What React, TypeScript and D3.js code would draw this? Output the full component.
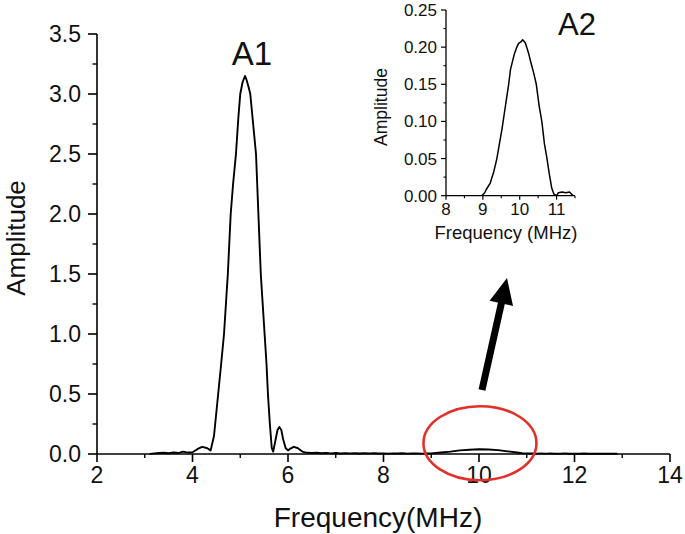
import React from "react";
import * as d3 from "d3";

const W = 685;
const H = 534;

// Main spectrum (frequency in MHz, amplitude)
const mainFreq = [
  3.1, 3.2, 3.3, 3.4, 3.5, 3.6, 3.7, 3.8, 3.9, 4.0, 4.1, 4.2, 4.3, 4.38,
  4.45, 4.5, 4.55, 4.6, 4.66, 4.7, 4.74, 4.8, 4.85, 4.91, 4.96, 5.0, 5.05,
  5.1, 5.13, 5.18, 5.21, 5.27, 5.33, 5.38, 5.43, 5.47, 5.51, 5.55, 5.58,
  5.62, 5.66, 5.69, 5.73, 5.78, 5.82, 5.86, 5.9, 5.95, 6.0, 6.05, 6.12, 6.2,
  6.3, 6.4, 6.5, 6.6, 6.7, 6.8, 6.9, 7.0, 7.1, 7.2, 7.3, 7.4, 7.5, 7.6, 7.7,
  7.8, 7.9, 8.0, 8.1, 8.2, 8.3, 8.4, 8.5, 8.6, 8.7, 8.8, 8.9, 9.0, 9.2, 9.4,
  9.6, 9.8, 10.0, 10.2, 10.4, 10.6, 10.8, 10.9, 11.0, 11.1, 11.2, 11.3, 11.4,
  11.5, 11.6, 11.7, 11.8, 11.9, 12.0, 12.1, 12.2, 12.3, 12.4, 12.5, 12.6,
  12.7, 12.8, 12.9,
];
const mainAmp = [
  0.0, 0.005, 0.008, 0.01, 0.006, 0.012, 0.008, 0.02, 0.012, 0.015, 0.04,
  0.06, 0.05, 0.03, 0.15, 0.35, 0.55, 0.75, 1.0, 1.25, 1.5, 2.0, 2.25, 2.5,
  2.8, 3.0, 3.1, 3.15, 3.12, 3.05, 3.0, 2.75, 2.5, 2.0, 1.5, 1.25, 1.0, 0.75,
  0.5, 0.25, 0.05, 0.02, 0.1, 0.2, 0.225, 0.2, 0.12, 0.05, 0.03, 0.045, 0.06,
  0.05, 0.02, 0.01, 0.008, 0.01, 0.006, 0.009, 0.005, 0.008, 0.004, 0.007,
  0.005, 0.006, 0.004, 0.007, 0.005, 0.006, 0.004, 0.005, 0.003, 0.005,
  0.004, 0.006, 0.003, 0.005, 0.004, 0.003, 0.004, 0.005, 0.012, 0.02, 0.03,
  0.035, 0.04, 0.038, 0.032, 0.022, 0.012, 0.006, 0.004, 0.005, 0.003, 0.004,
  0.003, 0.004, 0.002, 0.003, 0.004, 0.002, 0.003, 0.002, 0.004, 0.002,
  0.003, 0.002, 0.003, 0.002, 0.003, 0.002,
];

// Inset spectrum (A2 zoom)
const insetFreq = [
  8.97, 9.05, 9.1, 9.2, 9.3, 9.38, 9.45, 9.52, 9.58, 9.64, 9.7, 9.75, 9.85,
  9.92, 9.97, 10.03, 10.08, 10.15, 10.19, 10.25, 10.3, 10.38, 10.45, 10.53,
  10.6, 10.67, 10.74, 10.8, 10.87, 10.93, 11.0, 11.05, 11.15, 11.25, 11.35,
  11.45,
];
const insetAmp = [
  0.0, 0.004, 0.009, 0.017, 0.033, 0.05, 0.07, 0.09, 0.11, 0.13, 0.15, 0.17,
  0.19, 0.2, 0.205, 0.207, 0.21, 0.206, 0.2, 0.19, 0.18, 0.165, 0.15, 0.12,
  0.1, 0.07, 0.05, 0.03, 0.01, 0.002, 0.0, 0.004, 0.005, 0.004, 0.005, 0.0,
];

const mainXTicks = [2, 4, 6, 8, 10, 12, 14];
const mainXMinor = [3, 5, 7, 9, 11, 13];
const mainYTicks = [0, 0.5, 1.0, 1.5, 2.0, 2.5, 3.0, 3.5];
const mainYMinor = [0.25, 0.75, 1.25, 1.75, 2.25, 2.75, 3.25];
const insetXTicks = [8, 9, 10, 11];
const insetXMinor = [8.5, 9.5, 10.5, 11.5];
const insetYTicks = [0, 0.05, 0.1, 0.15, 0.2, 0.25];
const insetYMinor = [0.025, 0.075, 0.125, 0.175, 0.225];

const FONT = "'Liberation Sans', Arial, Helvetica, sans-serif";

export default function App() {
  const x = d3.scaleLinear().domain([2, 14]).range([97, 670]);
  const y = d3.scaleLinear().domain([0, 3.5]).range([454, 34]);
  const xi = d3.scaleLinear().domain([8, 11.5]).range([446, 575]);
  const yi = d3.scaleLinear().domain([0, 0.25]).range([195.7, 10]);

  const mainLine = d3
    .line<number>()
    .x((_, i) => x(mainFreq[i]))
    .y((d) => y(d))(mainAmp) as string;
  const insetLine = d3
    .line<number>()
    .x((_, i) => xi(insetFreq[i]))
    .y((d) => yi(d))(insetAmp) as string;

  // arrow geometry
  const tail: [number, number] = [482, 390];
  const tip: [number, number] = [507, 278];
  const dx = tip[0] - tail[0];
  const dy = tip[1] - tail[1];
  const len = Math.hypot(dx, dy);
  const ux = dx / len;
  const uy = dy / len;
  const px = -uy;
  const py = ux;
  const headLen = 26;
  const headHalf = 12;
  const bx = tip[0] - ux * headLen;
  const by = tip[1] - uy * headLen;

  return (
    <svg
      width={W}
      height={H}
      style={{ position: "absolute", left: 0, top: 0, background: "#fff" }}
      fontFamily={FONT}
    >
      <rect width={W} height={H} fill="#fff" />
      {/* main axes */}
      <line x1={x(2)} x2={x(14)} y1={y(0)} y2={y(0)} stroke="#000" strokeWidth={1.6} />
      <line x1={x(2)} x2={x(2)} y1={y(0)} y2={y(3.5)} stroke="#000" strokeWidth={1.6} />
      {mainXTicks.map((t) => (
        <g key={"mx" + t}>
          <line x1={x(t)} x2={x(t)} y1={y(0)} y2={y(0) + 8} stroke="#000" strokeWidth={1.6} />
          <text x={x(t)} y={483} fontSize={23} textAnchor="middle" fill="#111">
            {t}
          </text>
        </g>
      ))}
      {mainXMinor.map((t) => (
        <line key={"mxm" + t} x1={x(t)} x2={x(t)} y1={y(0)} y2={y(0) + 4} stroke="#000" strokeWidth={1.4} />
      ))}
      {mainYTicks.map((t) => (
        <g key={"my" + t}>
          <line x1={x(2) - 9} x2={x(2)} y1={y(t)} y2={y(t)} stroke="#000" strokeWidth={1.6} />
          <text x={81} y={y(t) + 8} fontSize={23} textAnchor="end" fill="#111">
            {t.toFixed(1)}
          </text>
        </g>
      ))}
      {mainYMinor.map((t) => (
        <line key={"mym" + t} x1={x(2) - 4.5} x2={x(2)} y1={y(t)} y2={y(t)} stroke="#000" strokeWidth={1.4} />
      ))}
      <text x={378} y={527} fontSize={28} textAnchor="middle" fill="#111">
        Frequency(MHz)
      </text>
      <text
        transform="translate(25,238) rotate(-90)"
        fontSize={26}
        textAnchor="middle"
        fill="#111"
      >
        Amplitude
      </text>
      <text x={252} y={65} fontSize={33} textAnchor="middle" fill="#111">
        A1
      </text>
      <path d={mainLine} fill="none" stroke="#000" strokeWidth={1.9} strokeLinejoin="round" />

      {/* red ellipse */}
      <ellipse cx={x(10.02)} cy={y(0.09)} rx={56.5} ry={37} fill="none" stroke="#e2302b" strokeWidth={2.6} />

      {/* arrow */}
      <line x1={tail[0]} y1={tail[1]} x2={bx + ux * 2} y2={by + uy * 2} stroke="#000" strokeWidth={7} />
      <polygon
        points={`${tip[0]},${tip[1]} ${bx + px * headHalf},${by + py * headHalf} ${bx - px * headHalf},${by - py * headHalf}`}
        fill="#000"
      />

      {/* inset */}
      <line x1={xi(8)} x2={xi(11.5)} y1={yi(0)} y2={yi(0)} stroke="#000" strokeWidth={1.3} />
      <line x1={xi(8)} x2={xi(8)} y1={yi(0)} y2={yi(0.25)} stroke="#000" strokeWidth={1.3} />
      {insetXTicks.map((t) => (
        <g key={"ix" + t}>
          <line x1={xi(t)} x2={xi(t)} y1={yi(0)} y2={yi(0) + 4} stroke="#000" strokeWidth={1.2} />
          <text x={xi(t)} y={215} fontSize={17} textAnchor="middle" fill="#111">
            {t}
          </text>
        </g>
      ))}
      {insetXMinor.map((t) => (
        <line key={"ixm" + t} x1={xi(t)} x2={xi(t)} y1={yi(0)} y2={yi(0) + 2.5} stroke="#000" strokeWidth={1.1} />
      ))}
      {insetYTicks.map((t) => (
        <g key={"iy" + t}>
          <line x1={xi(8) - 5} x2={xi(8)} y1={yi(t)} y2={yi(t)} stroke="#000" strokeWidth={1.2} />
          <text x={437} y={yi(t) + 6} fontSize={17} textAnchor="end" fill="#111">
            {t.toFixed(2)}
          </text>
        </g>
      ))}
      {insetYMinor.map((t) => (
        <line key={"iym" + t} x1={xi(8) - 2.5} x2={xi(8)} y1={yi(t)} y2={yi(t)} stroke="#000" strokeWidth={1.1} />
      ))}
      <text x={506} y={239} fontSize={18.5} textAnchor="middle" fill="#111">
        Frequency (MHz)
      </text>
      <text
        transform="translate(387,107) rotate(-90)"
        fontSize={17.5}
        textAnchor="middle"
        fill="#111"
      >
        Amplitude
      </text>
      <text x={577} y={35} fontSize={31} textAnchor="middle" fill="#111">
        A2
      </text>
      <path d={insetLine} fill="none" stroke="#000" strokeWidth={1.5} strokeLinejoin="round" />
    </svg>
  );
}
